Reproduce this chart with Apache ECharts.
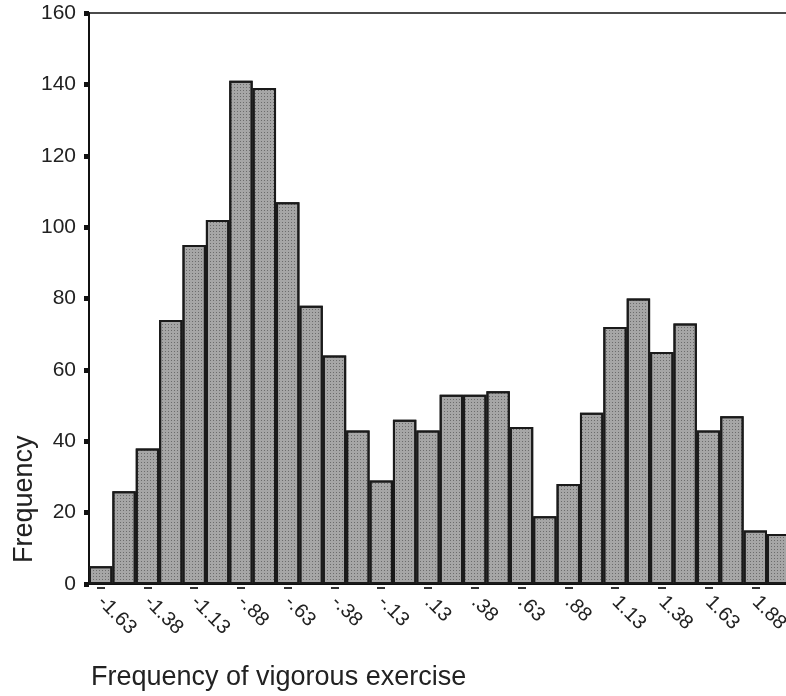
<!DOCTYPE html>
<html>
<head>
<meta charset="utf-8">
<script src="https://cdn.jsdelivr.net/npm/echarts@6/dist/echarts.min.js"></script>
<style>
html,body{margin:0;padding:0;background:#fff;overflow:hidden;width:786px;height:696px;}
#chart{width:792px;height:696px;}
</style>
</head>
<body>
<div id="chart"></div>
<script>
const categories = ["-1.63","-1.50","-1.38","-1.25","-1.13","-1.00","-.88","-.75","-.63","-.50","-.38","-.25","-.13",".00",".13",".25",".38",".50",".63",".75",".88","1.00","1.13","1.25","1.38","1.50","1.63","1.75","1.88","2.00"];
const frequencies = [5,26,38,74,95,102,141,139,107,78,64,43,29,46,43,53,53,54,44,19,28,48,72,80,65,73,43,47,15,14];
const yTicks = [0,20,40,60,80,100,120,140,160];
const xTitle = "Frequency of vigorous exercise";
const yTitle = "Frequency";

const chart = echarts.init(document.getElementById('chart'), null, {renderer:'canvas'});
const font = 'Liberation Sans, Arial, Helvetica, sans-serif';
chart.setOption({
  animation:false,
  backgroundColor:'#fff',
  grid:{left:89, top:13, bottom:112, right:0, containLabel:false},
  xAxis:[{
    type:'category',
    data:categories,
    position:'bottom',
    boundaryGap:true,
    axisLine:{show:true, lineStyle:{color:'#111', width:2}},
    axisTick:{show:false},
    axisLabel:{interval:1, rotate:-45, margin:15, fontFamily:font, fontSize:20, color:'#222'},
    splitLine:{show:false}
  },{
    type:'category',
    data:categories,
    position:'bottom',
    offset:3,
    axisLine:{show:false},
    axisTick:{show:true, alignWithLabel:true, interval:1, length:2, lineStyle:{color:'#333', width:8}},
    axisLabel:{show:false}
  },{
    type:'category',
    data:categories,
    position:'top',
    axisLine:{show:true, lineStyle:{color:'#111', width:1.5}},
    axisTick:{show:false},
    axisLabel:{show:false}
  }],
  yAxis:{
    type:'value',
    min:yTicks[0], max:yTicks[yTicks.length-1], interval:20,
    axisLine:{show:true, lineStyle:{color:'#111', width:2}},
    axisTick:{show:true, length:5, lineStyle:{color:'#111', width:5}},
    axisLabel:{margin:13, fontFamily:font, fontSize:21, color:'#222'},
    splitLine:{show:false}
  },
  series:[{
    type:'bar',
    data:frequencies,
    barCategoryGap:'0%',
    itemStyle:{color:'#a6a6a6', borderColor:'#1a1a1a', borderWidth:2,
      decal:{symbol:'rect', symbolSize:1, color:'rgba(50,50,50,0.5)', dashArrayX:[1,2], dashArrayY:[1,2], rotation:0}}
  }],
  graphic:[
    {type:'text', left:91, top:664, style:{text:xTitle, font:'27px '+font, fill:'#222'}},
    {type:'text', x:11, y:563, rotation:Math.PI/2, style:{text:yTitle, font:'27px '+font, fill:'#222'}}
  ]
});
</script>
</body>
</html>
